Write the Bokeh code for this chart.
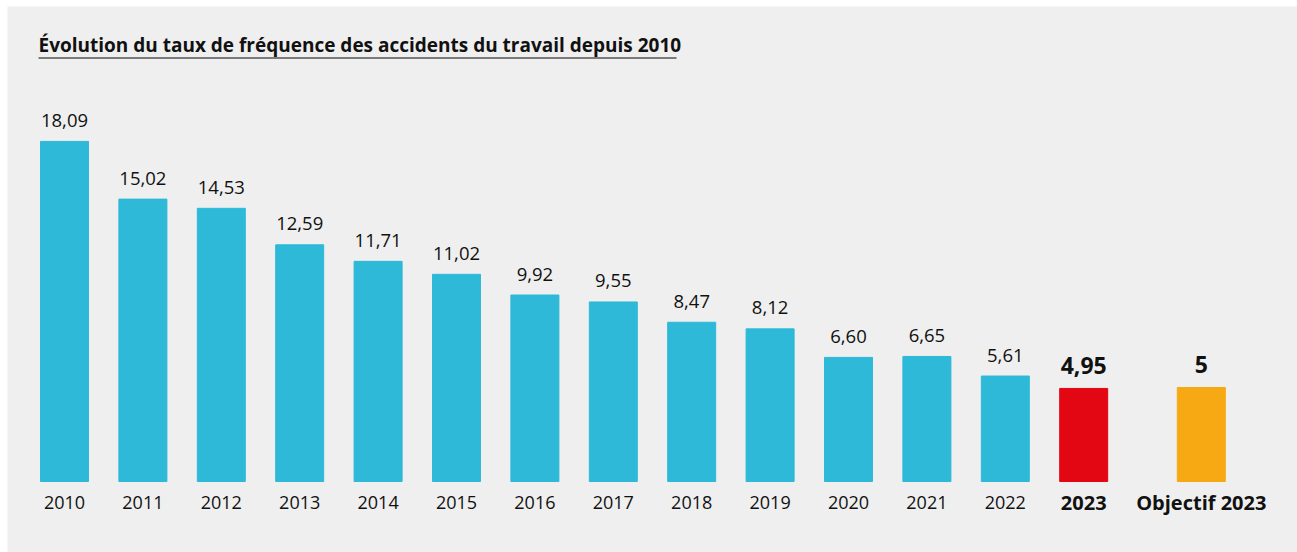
from bokeh.plotting import figure
from bokeh.models import ColumnDataSource
from bokeh.core.properties import value
from bokeh.embed import file_html
from bokeh.resources import INLINE

# ---- data ----
categories = ["2010", "2011", "2012", "2013", "2014", "2015", "2016", "2017",
              "2018", "2019", "2020", "2021", "2022", "2023", "Objectif 2023"]
rates = [18.09, 15.02, 14.53, 12.59, 11.71, 11.02, 9.92, 9.55,
         8.47, 8.12, 6.60, 6.65, 5.61, 4.95, 5]
value_labels = ["18,09", "15,02", "14,53", "12,59", "11,71", "11,02", "9,92", "9,55",
                "8,47", "8,12", "6,60", "6,65", "5,61", "4,95", "5"]
title_text = "Évolution du taux de fréquence des accidents du travail depuis 2010"

# ---- layout ----
W, H = 1297, 552
LEFT, TOP = 7, 6          # white strip around the grey panel
FW, FH = W - LEFT, H - TOP
PXU_X = 78.4   # pixels per category step
PXU_Y = 18.8   # pixels per rate unit
X0 = -(64 - LEFT) / PXU_X
X1 = X0 + FW / PXU_X
Y0 = -(552 - 481) / PXU_Y
Y1 = Y0 + FH / PXU_Y
TXT_SHIFT = 7  # empirical correction of text baseline placement

def dx(px):  # page pixel -> data x
    return X0 + (px - LEFT) / PXU_X

def dy(py):  # page pixel -> data y
    return Y1 - (py - TOP) / PXU_Y

CYAN = "#2db9d7"
RED = "#e30613"
ORANGE = "#f7a914"

n = len(categories)
xs = [float(i) for i in range(n - 1)] + [n - 1 + 0.5]
colors = [CYAN] * (n - 2) + [RED, ORANGE]

p = figure(width=W, height=H, x_range=(X0, X1), y_range=(Y0, Y1),
           output_backend="svg", toolbar_location=None,
           min_border_left=LEFT, min_border_top=TOP, min_border_right=0, min_border_bottom=0)
p.axis.visible = False
p.grid.visible = False
p.outline_line_color = None
p.background_fill_color = "#efefef"
p.border_fill_color = "white"

src = ColumnDataSource(dict(x=xs, top=rates, color=colors))
p.vbar(x="x", top="top", bottom=0, width=48 / PXU_X, color="color", source=src)

FONT = value("Open Sans")
reg = slice(0, n - 2)
bold = slice(n - 2, n)

# value labels
p.text(x=xs[reg], y=[r + (14 + TXT_SHIFT) / PXU_Y for r in rates[reg]], text=value_labels[reg],
       text_font=FONT, text_font_size="18.5px", text_color="#111111",
       text_align="center", text_baseline="alphabetic")
p.text(x=xs[bold], y=[r + (16 + TXT_SHIFT) / PXU_Y for r in rates[bold]], text=value_labels[bold],
       text_font=FONT, text_font_size="23px", text_font_style="bold", text_color="#111111",
       text_align="center", text_baseline="alphabetic")

# category labels
cat_y = dy(509 - TXT_SHIFT)
p.text(x=xs[reg], y=[cat_y] * (n - 2), text=categories[reg],
       text_font=FONT, text_font_size="18px", text_color="#111111",
       text_align="center", text_baseline="alphabetic")
p.text(x=xs[bold], y=[cat_y] * 2, text=categories[bold],
       text_font=FONT, text_font_size="20px", text_font_style="bold", text_color="#111111",
       text_align="center", text_baseline="alphabetic")

# title with underline
p.text(x=[dx(38)], y=[dy(51 - TXT_SHIFT)], text=[title_text], text_font=FONT,
       text_font_size="19px", text_font_style="bold", text_color="#111111",
       text_align="left", text_baseline="alphabetic")
p.segment(x0=[dx(38)], y0=[dy(57.5)], x1=[dx(676)], y1=[dy(57.5)],
          line_color="#555555", line_width=1.5)

open("out.html", "w").write(file_html(p, INLINE))
